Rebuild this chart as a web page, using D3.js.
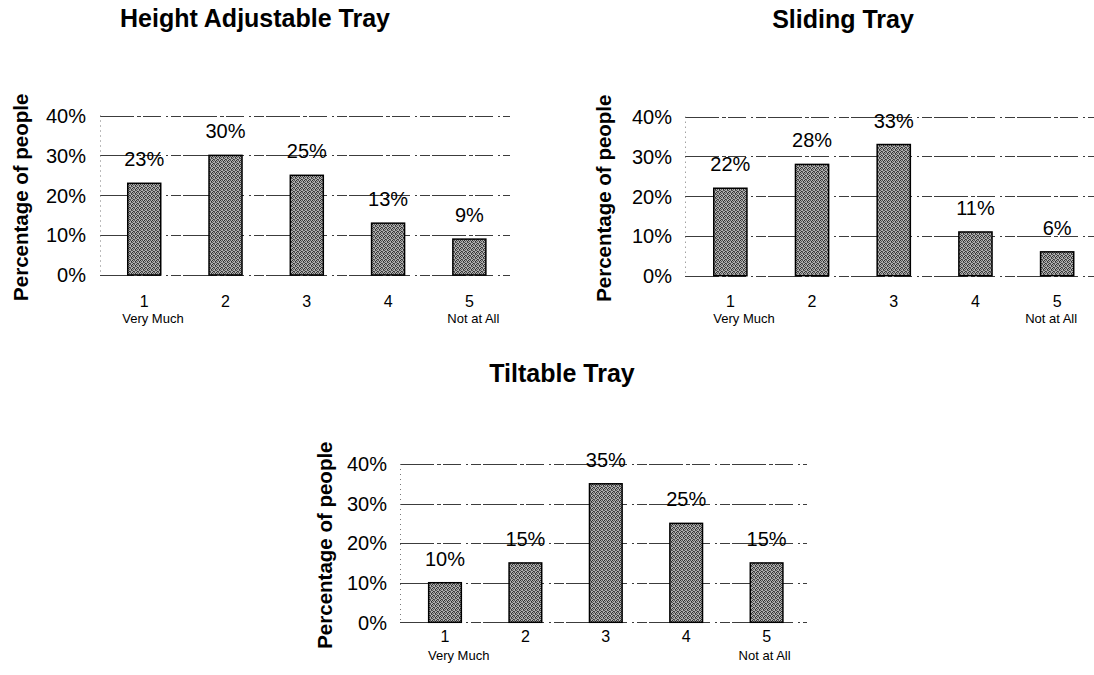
<!DOCTYPE html>
<html>
<head>
<meta charset="utf-8">
<script src="https://cdn.jsdelivr.net/npm/d3@7/dist/d3.min.js"></script>
<style>
  html, body { margin: 0; padding: 0; background: #fff; }
  svg { display: block; }
  text { font-family: Arial, "Liberation Sans", Helvetica, sans-serif; fill: #000; }
</style>
</head>
<body>
<svg id="chart" width="1094" height="675"></svg>
<script>
// Survey answers: rating scale 1 (Very Much) .. 5 (Not at All)
const categories = ["1", "2", "3", "4", "5"];
const scaleNotes = ["Very Much", "", "", "", "Not at All"];
const yTicks = [0, 10, 20, 30, 40];

const chartTitles = ["Height Adjustable Tray", "Sliding Tray", "Tiltable Tray"];
const heightAdjustable = [23, 30, 25, 13, 9];
const slidingTray = [22, 28, 33, 11, 6];
const tiltableTray = [10, 15, 35, 25, 15];

const yLabel = "Percentage of people";

// Panel placement on the page
const panels = [
  { values: heightAdjustable, title: chartTitles[0],
    band: [103.6, 510], grid: [100, 510], y0: 275, yTop: 115.5,
    tickRight: 86, axisTitleX: 21, titleX: 255, titleY: 27,
    numDy: 32, noteDy: 47.5, notes: [-22, 4] },
  { values: slidingTray, title: chartTitles[1],
    band: [689.5, 1098], grid: [685, 1094], y0: 275.7, yTop: 116.7,
    tickRight: 672, axisTitleX: 604, titleX: 843, titleY: 28,
    numDy: 31, noteDy: 47.5, notes: [-17, -6] },
  { values: tiltableTray, title: chartTitles[2],
    band: [404.8, 806.8], grid: [400, 807], y0: 622.3, yTop: 464,
    tickRight: 387, axisTitleX: 325, titleX: 562, titleY: 381.5,
    numDy: 20, noteDy: 37.7, notes: [-17, -2] }
];

const svg = d3.select("#chart");

// Stippled grey fill for the bars
const defs = svg.append("defs");
const pat = defs.append("pattern")
  .attr("id", "dither")
  .attr("patternUnits", "userSpaceOnUse")
  .attr("width", 4).attr("height", 4);
pat.append("rect").attr("width", 4).attr("height", 4).attr("fill", "#b0b0b0");
[[0, 0], [2, 0], [1, 1], [3, 1], [0, 2], [3, 2], [1, 3], [2, 3]].forEach(([px, py], k) => {
  pat.append("rect")
    .attr("x", px).attr("y", py)
    .attr("width", 1).attr("height", 1)
    .attr("fill", k % 3 === 0 ? "#2e2e2e" : "#555");
});

panels.forEach(p => {
  const g = svg.append("g");

  const x = d3.scaleBand()
    .domain(categories)
    .range(p.band)
    .paddingInner(0.594)
    .paddingOuter(0.297);

  const y = d3.scaleLinear()
    .domain([0, 40])
    .range([p.y0, p.yTop]);

  // horizontal gridlines
  g.append("g")
    .selectAll("line")
    .data(yTicks)
    .join("line")
    .attr("x1", p.grid[0])
    .attr("x2", p.grid[1])
    .attr("y1", d => Math.round(y(d)) + 0.5)
    .attr("y2", d => Math.round(y(d)) + 0.5)
    .attr("stroke", "#3c3c3c")
    .attr("stroke-width", 1)
    .attr("stroke-dasharray", "34,3,4,2,18,5,2,3,10,2");

  // faint vertical axis line
  g.append("line")
    .attr("x1", p.grid[0] + 0.5).attr("x2", p.grid[0] + 0.5)
    .attr("y1", y(40)).attr("y2", y(0))
    .attr("stroke", "#777")
    .attr("stroke-dasharray", "1,4");

  // y axis tick labels
  const yAxis = d3.axisLeft(y)
    .tickValues(yTicks)
    .tickSize(0)
    .tickPadding(0)
    .tickFormat(d => d + "%");
  const ax = g.append("g")
    .attr("transform", `translate(${p.tickRight},0)`)
    .call(yAxis);
  ax.select(".domain").remove();
  ax.selectAll("text")
    .attr("x", 0)
    .attr("dy", "0.34em")
    .attr("text-anchor", "end")
    .style("font-size", "20px")
    .style("font-family", "Arial, 'Liberation Sans', sans-serif")
    .attr("fill", "#000");

  // bars
  g.append("g")
    .selectAll("rect")
    .data(p.values)
    .join("rect")
    .attr("x", (d, i) => x(categories[i]))
    .attr("y", d => y(d))
    .attr("width", x.bandwidth())
    .attr("height", d => y(0) - y(d))
    .attr("fill", "url(#dither)")
    .attr("stroke", "#000")
    .attr("stroke-width", 1.5);

  // value labels above bars
  g.append("g")
    .selectAll("text")
    .data(p.values)
    .join("text")
    .attr("x", (d, i) => x(categories[i]) + x.bandwidth() / 2)
    .attr("y", d => y(d) - 17)
    .attr("text-anchor", "middle")
    .style("font-size", "20px")
    .text(d => d + "%");

  // category numbers
  g.append("g")
    .selectAll("text")
    .data(categories)
    .join("text")
    .attr("x", d => x(d) + x.bandwidth() / 2)
    .attr("y", p.y0 + p.numDy)
    .attr("text-anchor", "middle")
    .style("font-size", "16px")
    .text(d => d);

  // scale end notes
  g.append("text")
    .attr("x", x(categories[0]) + x.bandwidth() / 2 + p.notes[0])
    .attr("y", p.y0 + p.noteDy)
    .attr("text-anchor", "start")
    .style("font-size", "13px")
    .text(scaleNotes[0]);
  g.append("text")
    .attr("x", x(categories[4]) + x.bandwidth() / 2 + p.notes[1])
    .attr("y", p.y0 + p.noteDy)
    .attr("text-anchor", "middle")
    .style("font-size", "13px")
    .text(scaleNotes[4]);

  // y axis title
  const cy = (p.y0 + p.yTop) / 2 + 2;
  g.append("text")
    .attr("transform", `translate(${p.axisTitleX},${cy}) rotate(-90)`)
    .attr("text-anchor", "middle")
    .attr("dy", "0.35em")
    .style("font-size", "20.5px")
    .style("font-weight", "bold")
    .text(yLabel);

  // panel title
  g.append("text")
    .attr("x", p.titleX)
    .attr("y", p.titleY)
    .attr("text-anchor", "middle")
    .style("font-size", "25px")
    .style("font-weight", "bold")
    .text(p.title);
});
</script>
</body>
</html>
